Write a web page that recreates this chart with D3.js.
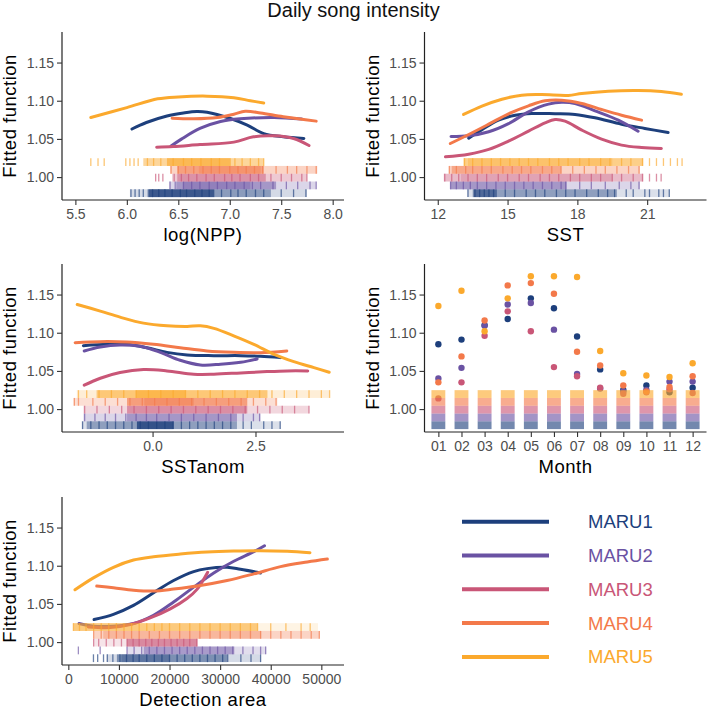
<!DOCTYPE html>
<html><head><meta charset="utf-8">
<script src="https://cdn.jsdelivr.net/npm/d3@7"></script>
<style>body{margin:0;background:#fff}svg{display:block}</style>
</head><body><svg id="c" width="709" height="708"></svg>
<script>
// ---------- DATA ----------
const series = ["MARU1","MARU2","MARU3","MARU4","MARU5"];
const colors = ["#1d3f7c","#6a52a3","#c95677","#f3794a","#fba92d"];
const yTickVals = [1.00,1.05,1.10,1.15];
const monthLabels = ["01","02","03","04","05","06","07","08","09","10","11","12"];

// log(NPP) panel
const nppCurves = [
 [[6.05,1.063],[6.19,1.0715],[6.39,1.080],[6.55,1.084],[6.68,1.086],[6.78,1.085],[7.0,1.077],[7.17,1.068],[7.33,1.057],[7.52,1.0528],[7.72,1.0506]],
 [[6.43,1.0406],[6.53,1.0497],[6.71,1.0637],[6.91,1.0728],[7.1,1.0763],[7.43,1.078],[7.7,1.076]],
 [[6.29,1.0392],[6.45,1.040],[6.71,1.0427],[7.04,1.0458],[7.23,1.0528],[7.43,1.054],[7.62,1.0506],[7.77,1.0414]],
 [[6.44,1.077],[6.65,1.0763],[6.88,1.078],[7.04,1.0824],[7.15,1.0863],[7.3,1.084],[7.52,1.079],[7.84,1.0733]],
 [[5.65,1.078],[6.0,1.091],[6.3,1.1025],[6.5,1.105],[6.78,1.106],[7.04,1.104],[7.2,1.100],[7.33,1.097]]
];
const nppRugBands = [
 [[6.03,7.75,0.12],[6.2,7.4,0.25],[6.21,6.85,0.45]],
 [[6.41,7.84,0.15],[6.48,7.45,0.3],[6.55,7.2,0.2]],
 [[6.44,7.75,0.2],[6.49,7.35,0.3]],
 [[6.42,7.85,0.2],[6.49,7.33,0.35],[6.7,7.3,0.2]],
 [[6.16,7.33,0.3],[6.39,7.01,0.4]]
];
const nppRugTicks = [
 [6.04,6.08,6.12,6.16,6.25,6.31,6.37,6.44,6.52,6.58,6.66,6.73,6.8,6.92,7.01,7.08,7.16,7.25,7.33,7.5,7.62,7.74],
 [6.42,6.47,6.55,6.63,6.71,6.8,6.88,6.97,7.05,7.14,7.22,7.3,7.42,7.55,7.66,7.78,7.84],
 [6.28,6.31,6.35,6.46,6.53,6.6,6.68,6.77,6.85,6.95,7.02,7.1,7.2,7.28,7.4,7.5,7.6,7.7,7.75],
 [6.43,6.5,6.57,6.65,6.74,6.82,6.9,7.0,7.08,7.16,7.24,7.32,7.45,7.56,7.65,7.75,7.84],
 [5.65,5.72,5.78,5.99,6.03,6.07,6.11,6.2,6.26,6.33,6.45,6.55,6.63,6.72,6.82,6.9,7.05,7.12,7.2,7.28,7.33]
];

// SST panel
const sstCurves = [
 [[13.33,1.051],[13.9,1.062],[14.61,1.0746],[15.33,1.081],[16.04,1.0833],[17.04,1.0829],[17.9,1.082],[18.76,1.0776],[19.9,1.0693],[20.9,1.0637],[21.9,1.0584]],
 [[12.57,1.053],[13.33,1.054],[14.19,1.0593],[15.04,1.070],[15.9,1.0855],[16.76,1.0955],[17.33,1.098],[17.9,1.0964],[18.76,1.0868],[19.76,1.0746],[20.61,1.060]],
 [[12.33,1.0266],[13.33,1.030],[14.19,1.0362],[15.04,1.0471],[15.9,1.0602],[16.61,1.0711],[17.04,1.0754],[17.47,1.0733],[18.19,1.0615],[19.04,1.0497],[19.9,1.0419],[20.76,1.0388],[21.61,1.0375]],
 [[12.54,1.044],[13.33,1.0558],[14.19,1.0693],[15.04,1.0829],[15.9,1.0933],[16.61,1.0999],[17.33,1.1007],[18.19,1.0964],[19.04,1.0885],[19.9,1.081],[20.76,1.0746]],
 [[13.11,1.082],[13.9,1.093],[14.76,1.102],[15.61,1.1073],[16.47,1.108],[17.61,1.107],[18.19,1.1095],[19.33,1.1125],[20.61,1.1134],[21.61,1.112],[22.47,1.1086]]
];
const sstRugBands = [
 [[13.26,21.97,0.1],[13.5,19.7,0.25],[13.54,14.54,0.35]],
 [[12.54,20.69,0.15],[12.54,17.54,0.3]],
 [[12.26,20.83,0.25],[13.0,19.5,0.15]],
 [[12.47,20.69,0.2],[12.6,17.3,0.3]],
 [[13.11,20.83,0.35],[13.3,19.5,0.2]]
];
const sstRugTicks = [
 [13.3,13.6,13.8,14.0,14.2,14.4,14.9,15.3,15.8,16.2,16.6,17.1,17.5,17.9,18.4,18.9,19.3,19.6,20.1,20.4,20.9,21.1,21.5,21.7,21.95],
 [12.55,12.8,13.1,13.4,13.7,14.1,14.5,14.9,15.3,15.7,16.1,16.5,16.9,17.3,17.5,18.1,18.6,19.2,19.8,20.3,20.65],
 [12.3,12.6,12.9,13.3,13.7,14.1,14.6,15.0,15.5,15.9,16.4,16.8,17.2,17.7,18.1,18.6,19.0,19.5,19.9,20.4,20.8,21.1,21.4,21.6],
 [12.5,12.8,13.2,13.5,13.9,14.3,14.8,15.2,15.6,16.0,16.5,16.9,17.3,17.8,18.3,18.8,19.2,19.7,20.2,20.65],
 [13.15,13.5,13.9,14.3,14.7,15.1,15.5,15.9,16.3,16.8,17.2,17.6,18.1,18.5,19.0,19.4,19.9,20.3,20.8,21.1,21.4,21.7,22.0,22.3,22.5]
];

// SSTanom panel
const anomCurves = [
 [[-1.68,1.083],[-1.11,1.0848],[-0.63,1.0848],[-0.14,1.0804],[0.35,1.0743],[0.84,1.0709],[1.49,1.070],[2.14,1.070],[2.62,1.0691],[3.11,1.0674]],
 [[-1.66,1.0761],[-1.27,1.0813],[-0.79,1.0839],[-0.30,1.0822],[0.19,1.0743],[0.67,1.0639],[1.16,1.0578],[1.65,1.0587],[2.14,1.0613],[2.54,1.0657]],
 [[-1.66,1.0313],[-1.27,1.0404],[-0.79,1.0478],[-0.22,1.0517],[0.35,1.050],[1.0,1.0457],[1.49,1.0457],[2.14,1.0474],[2.78,1.0491],[3.27,1.050],[3.77,1.050]],
 [[-1.88,1.087],[-1.27,1.0883],[-0.63,1.0878],[0.02,1.0848],[0.67,1.0804],[1.32,1.0761],[1.97,1.0743],[2.62,1.0739],[3.26,1.0761]],
 [[-1.83,1.137],[-1.27,1.1283],[-0.79,1.1204],[-0.22,1.1126],[0.35,1.1091],[0.84,1.1083],[1.16,1.109],[1.49,1.1057],[1.97,1.096],[2.46,1.0848],[2.95,1.0717],[3.43,1.0622],[3.92,1.0543],[4.29,1.0483]]
];
const anomRugBands = [
 [[-1.72,3.11,0.1],[-1.6,2.05,0.25],[-0.38,0.51,0.5]],
 [[-1.68,2.62,0.15],[-0.62,2.05,0.3]],
 [[-1.68,3.8,0.15],[-0.62,2.3,0.35]],
 [[-1.92,3.03,0.15],[-0.62,2.3,0.4],[-0.2,1.0,0.25]],
 [[-1.84,4.29,0.12],[-1.36,2.79,0.35],[-0.4,0.8,0.35]]
];
const anomRugTicks = [
 [-1.7,-1.5,-1.3,-1.1,-0.9,-0.7,-0.5,-0.3,-0.1,0.1,0.3,0.5,0.7,0.9,1.1,1.3,1.5,1.7,1.9,2.2,2.4,2.7,2.9,3.1],
 [-1.65,-1.4,-1.15,-0.9,-0.65,-0.4,-0.15,0.1,0.4,0.7,1.0,1.3,1.6,1.9,2.2,2.45,2.6],
 [-1.65,-1.35,-1.05,-0.75,-0.45,-0.15,0.15,0.45,0.75,1.05,1.35,1.65,1.95,2.25,2.55,2.85,3.15,3.45,3.8],
 [-1.9,-1.8,-1.45,-1.15,-0.85,-0.55,-0.25,0.05,0.35,0.65,0.95,1.25,1.55,1.85,2.15,2.45,2.75,3.0],
 [-1.8,-1.6,-1.3,-1.0,-0.7,-0.4,-0.1,0.2,0.5,0.8,1.1,1.4,1.7,2.0,2.3,2.6,2.9,3.2,3.5,3.8,4.1,4.3]
];

// Month panel (points)
const monthPoints = [
 [1.085,1.091,1.110,1.118,1.145,1.132,1.095,1.052,1.025,1.031,1.022,1.028],
 [1.040,1.054,1.109,1.137,1.139,1.104,1.046,1.027,1.023,1.025,1.036,1.036],
 [1.014,1.035,1.096,1.128,1.102,1.055,1.043,1.028,1.020,1.022,1.026,1.021],
 [1.035,1.069,1.116,1.162,1.165,1.151,1.075,1.057,1.031,1.023,1.029,1.043],
 [1.135,1.155,1.102,1.145,1.174,1.174,1.173,1.076,1.047,1.044,1.042,1.060]
];

// Detection area panel
const detCurves = [
 [[5086,1.0295],[8917,1.0364],[12880,1.0481],[16843,1.0646],[20806,1.0806],[24769,1.0923],[27411,1.0962],[31374,1.098],[34016,1.0954],[37979,1.0906]],
 [[2113,1.0243],[4954,1.0208],[8917,1.0208],[12880,1.0243],[16843,1.0351],[20806,1.0525],[24769,1.072],[28732,1.0906],[32695,1.1058],[36658,1.1184],[38772,1.1262]],
 [[3963,1.0199],[8256,1.0191],[12219,1.023],[16182,1.0316],[20145,1.0434],[23450,1.057],[25430,1.069],[27543,1.0915]],
 [[5614,1.0733],[8917,1.0711],[12880,1.068],[16843,1.0668],[20806,1.0694],[26090,1.0741],[31374,1.0806],[36658,1.0893],[41942,1.0988],[47226,1.1049],[51189,1.1088]],
 [[1321,1.0685],[4954,1.0841],[8917,1.098],[12880,1.1075],[16843,1.1118],[22127,1.1153],[27411,1.1179],[32695,1.1192],[37979,1.1197],[43263,1.1188],[47755,1.117]]
];
const detRugBands = [
 [[7616,38079,0.12],[9600,31400,0.3],[10500,20000,0.2]],
 [[11589,39073,0.12],[14900,32800,0.3]],
 [[4967,25497,0.1],[11589,25497,0.4]],
 [[4967,49669,0.2],[6900,38100,0.2]],
 [[994,37400,0.35],[994,49338,0.08]]
];
const detRugTicks = [
 [4967,5800,6954,7700,8800,10200,11500,12800,14000,15500,17000,18500,20000,21500,23000,24500,26000,27500,29000,30500,31500,34100,36100,38000],
 [1987,6291,11600,13000,14500,16000,17500,19000,20500,22000,23500,25000,26500,28000,29500,31000,32500,34500,36500,38000,39000],
 [5000,6000,7500,9000,10500,11600,12800,14000,15300,16500,17800,19000,20300,21500,22800,24000,25400],
 [5000,6500,8000,9500,11000,12500,14000,16000,18000,20000,22000,24000,26000,28000,30000,32000,34000,36000,38000,40000,42000,44000,46000,48000,49600],
 [1000,2200,3500,5000,6500,8000,9500,11000,12500,14000,15500,17000,18500,20000,22000,24000,26000,28000,30000,32000,34000,36000,37400,40000,43000,46000,47800]
];

// ---------- DRAW ----------
const svg = d3.select("#c");
const W = 282, H = 168;
const font = "'Liberation Sans', Arial, sans-serif";
const tickCol = "#4d4d4d";
const bandBoost = 1.6;

svg.append("text").attr("x",353.5).attr("y",17).attr("text-anchor","middle")
  .attr("font-family",font).attr("font-size",20).attr("fill","#111").text("Daily song intensity");

const panels = [
 {left:62, top:32, domain:[5.37,8.11], ticks:[5.5,6,6.5,7,7.5,8], fmt:d3.format(".1f"), label:"log(NPP)", curves:nppCurves, bands:nppRugBands, rticks:nppRugTicks},
 {left:424.5, top:32, domain:[11.43,23.55], ticks:[12,15,18,21], fmt:d3.format("d"), label:"SST", curves:sstCurves, bands:sstRugBands, rticks:sstRugTicks},
 {left:62, top:264, domain:[-2.2,4.65], ticks:[0,2.5], fmt:d3.format(".1f"), label:"SSTanom", curves:anomCurves, bands:anomRugBands, rticks:anomRugTicks},
 {left:424.5, top:264, domain:[0.4,12.6], ticks:d3.range(1,13), fmt:(d)=>monthLabels[d-1], label:"Month", points:monthPoints},
 {left:62, top:497, domain:[-1250,54480], ticks:[0,10000,20000,30000,40000,50000], fmt:d3.format("d"), label:"Detection area", curves:detCurves, bands:detRugBands, rticks:detRugTicks}
];

const rowBase = 0.9738, rowH = 0.0102;

panels.forEach(p => {
  const g = svg.append("g").attr("transform",`translate(${p.left},${p.top})`);
  const x = d3.scaleLinear().domain(p.domain).range([0,W]);
  const y = d3.scaleLinear().domain([0.970,1.19]).range([H,0]);

  if (p.curves) {
    const line = d3.line().x(d=>x(d[0])).y(d=>y(d[1])).curve(d3.curveCatmullRom.alpha(0.5));
    p.curves.forEach((c,i)=>{
      g.append("path").attr("d",line(c)).attr("fill","none").attr("stroke",colors[i])
       .attr("stroke-width",3).attr("stroke-linecap","round").attr("stroke-linejoin","round");
    });
  }
  if (p.points) {
    p.points.forEach((vals,i)=>{
      g.selectAll(null).data(vals).join("circle")
        .attr("cx",(d,j)=>x(j+1)).attr("cy",d=>y(d)).attr("r",3.2).attr("fill",colors[i]);
    });
  }
  series.forEach((s,i)=>{
    const yt = y(rowBase+(i+1)*rowH), yb = y(rowBase+i*rowH);
    const rg = g.append("g");
    if (p.points) {
      rg.selectAll(null).data(d3.range(1,13)).join("rect")
        .attr("x",m=>x(m-0.3)).attr("width",m=>x(m+0.3)-x(m-0.3))
        .attr("y",yt).attr("height",yb-yt).attr("fill",colors[i]).attr("opacity",0.62);
    } else {
      rg.selectAll(null).data(p.bands[i]).join("rect")
        .attr("x",b=>x(b[0])).attr("width",b=>x(b[1])-x(b[0]))
        .attr("y",yt).attr("height",yb-yt).attr("fill",colors[i]).attr("opacity",b=>Math.min(1,b[2]*bandBoost));
      rg.selectAll(null).data(p.rticks[i]).join("line")
        .attr("x1",t=>x(t)).attr("x2",t=>x(t)).attr("y1",yt).attr("y2",yb)
        .attr("stroke",colors[i]).attr("stroke-width",1.3).attr("opacity",0.65);
    }
  });

  const ax = g.append("g").attr("transform",`translate(0,${H})`)
    .call(d3.axisBottom(x).tickValues(p.ticks).tickFormat(p.fmt).tickSize(5).tickPadding(4));
  const ay = g.append("g")
    .call(d3.axisLeft(y).tickValues(yTickVals).tickFormat(d3.format(".2f")).tickSize(5).tickPadding(3));
  [ax,ay].forEach(a=>{
    a.select(".domain").attr("stroke","#222").attr("stroke-width",1.2);
    a.selectAll(".tick line").attr("stroke","#333").attr("stroke-width",1.1);
    a.selectAll("text").attr("font-family",font).attr("font-size",14).attr("fill",tickCol);
  });
  ax.select(".domain").attr("d",`M0,0H${W}`);
  ay.select(".domain").attr("d",`M0,0V${H}`);

  g.append("text").attr("x",W/2).attr("y",H+40.5).attr("text-anchor","middle")
   .attr("font-family",font).attr("font-size",18.5).attr("letter-spacing",0.5).attr("fill","#000").text(p.label);
  g.append("text").attr("transform",`translate(${-46},${H/2}) rotate(-90)`).attr("text-anchor","middle")
   .attr("font-family",font).attr("font-size",18.5).attr("letter-spacing",0.5).attr("fill","#000").text("Fitted function");
});

const lg = svg.append("g");
series.forEach((s,i)=>{
  const yy = 521.7 + i*33.8;
  lg.append("line").attr("x1",462).attr("x2",549).attr("y1",yy).attr("y2",yy)
    .attr("stroke",colors[i]).attr("stroke-width",4);
  lg.append("text").attr("x",588).attr("y",yy).attr("dy","0.35em")
    .attr("font-family",font).attr("font-size",18.5).attr("fill",colors[i]).text(s);
});
</script></body></html>
